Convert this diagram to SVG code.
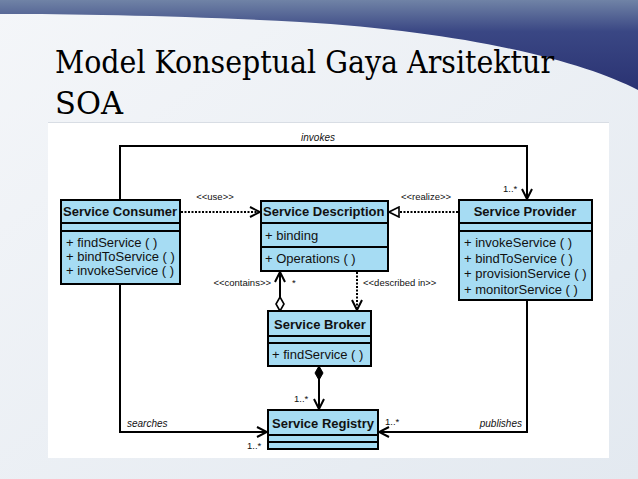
<svg xmlns="http://www.w3.org/2000/svg" width="638" height="479" viewBox="0 0 638 479">
<defs>
<linearGradient id="bg" x1="0" y1="0" x2="1" y2="1">
<stop offset="0" stop-color="#f4f6f9"/>
<stop offset="1" stop-color="#e3e9f0"/>
</linearGradient>
<linearGradient id="sw" x1="0" y1="0" x2="0" y2="1">
<stop offset="0" stop-color="#7083a6"/>
<stop offset="0.35" stop-color="#3a4784"/>
<stop offset="1" stop-color="#2a3272"/>
</linearGradient>
<marker id="open" viewBox="0 0 12 12" refX="11" refY="6" markerWidth="12" markerHeight="12" markerUnits="userSpaceOnUse" orient="auto">
<path d="M1,1 L11,6 L1,11" fill="none" stroke="#000" stroke-width="2"/>
</marker>
<marker id="tri" viewBox="0 0 12 12" refX="11" refY="6" markerWidth="12" markerHeight="12" markerUnits="userSpaceOnUse" orient="auto">
<path d="M1,1 L11,6 L1,11 Z" fill="#fff" stroke="#000" stroke-width="1.6"/>
</marker>
<marker id="hdia" viewBox="0 0 16 10" refX="1" refY="5" markerWidth="16" markerHeight="10" markerUnits="userSpaceOnUse" orient="auto">
<path d="M1,5 L8,1 L15,5 L8,9 Z" fill="#fff" stroke="#000" stroke-width="1.6"/>
</marker>
<marker id="fdia" viewBox="0 0 16 10" refX="1" refY="5" markerWidth="16" markerHeight="10" markerUnits="userSpaceOnUse" orient="auto">
<path d="M1,5 L8,1 L15,5 L8,9 Z" fill="#000" stroke="#000" stroke-width="1"/>
</marker>
</defs>
<style>
.box{fill:#a6dcf3;stroke:#000;stroke-width:2}
.hd{font-family:"Liberation Sans",Arial,sans-serif;font-weight:bold;font-size:13px;fill:#111}
.m{font-family:"Liberation Sans",Arial,sans-serif;font-size:13px;fill:#111}
.lb{font-family:"Liberation Sans",Arial,sans-serif;font-size:9.5px;fill:#111}
.it{font-family:"Liberation Sans",Arial,sans-serif;font-size:10px;font-style:italic;fill:#111}
.ln{fill:none;stroke:#000;stroke-width:2}
.dt{fill:none;stroke:#000;stroke-width:2;stroke-dasharray:2 1.5}
.ttl{font-family:'DejaVu Serif','Noto Serif','Liberation Serif',serif;font-size:31px;fill:#000}
</style>
<rect x="0" y="0" width="638" height="479" fill="url(#bg)"/>
<path d="M0,0 H638 V90 C585,62 470,32 300,22 C190,16 80,14 0,14 Z" fill="url(#sw)"/>
<text class="ttl" x="55" y="73" textLength="499" lengthAdjust="spacingAndGlyphs">Model Konseptual Gaya Arsitektur</text>
<text class="ttl" x="55" y="114" textLength="68" lengthAdjust="spacingAndGlyphs">SOA</text>
<rect x="48" y="123" width="561" height="335" fill="#fff"/>
<line x1="48" y1="122.5" x2="609" y2="122.5" stroke="#d8dde4" stroke-width="1"/>

<g id="connectors">
<path id="invokes" class="ln" d="M120,200 V146 H527 V199" marker-end="url(#open)"/>
<path id="use" class="dt" d="M181,212 H260" marker-end="url(#open)"/>
<path id="realize" class="dt" d="M458,212 H389" marker-end="url(#tri)"/>
<path id="contains" class="ln" d="M280,311 V272" marker-start="url(#hdia)" marker-end="url(#open)"/>
<path id="described" class="dt" d="M357,272 V310" marker-end="url(#open)"/>
<path id="compose" class="ln" d="M319,366 V409" marker-start="url(#fdia)" marker-end="url(#open)"/>
<path id="searches" class="ln" d="M120,284 V432 H267" marker-end="url(#open)"/>
<path id="publishes" class="ln" d="M527,300 V432 H379" marker-end="url(#open)"/>
<text class="it" x="318" y="141" text-anchor="middle">invokes</text>
<text class="lb" x="503" y="192">1..*</text>
<text class="lb" x="215" y="200" text-anchor="middle">&lt;&lt;use&gt;&gt;</text>
<text class="lb" x="426" y="200" text-anchor="middle">&lt;&lt;realize&gt;&gt;</text>
<text class="lb" x="271" y="286" text-anchor="end">&lt;&lt;contains&gt;&gt;</text>
<text class="lb" x="292" y="286">*</text>
<text class="lb" x="363" y="286">&lt;&lt;described in&gt;&gt;</text>
<text class="lb" x="294" y="402">1..*</text>
<text class="it" x="127" y="427">searches</text>
<text class="lb" x="247" y="449">1..*</text>
<text class="lb" x="385" y="425">1..*</text>
<text class="it" x="522" y="427" text-anchor="end">publishes</text>
</g>

<g id="consumer">
<rect class="box" x="61" y="200" width="119" height="84"/>
<line class="ln" x1="61" y1="223" x2="180" y2="223"/>
<line class="ln" x1="61" y1="231" x2="180" y2="231"/>
<text class="hd" x="63" y="216">Service Consumer</text>
<text class="m" x="66" y="247">+ findService ( )</text>
<text class="m" x="66" y="261">+ bindToService ( )</text>
<text class="m" x="66" y="275">+ invokeService ( )</text>
</g>

<g id="description">
<rect class="box" x="261" y="201" width="127" height="70"/>
<line class="ln" x1="261" y1="223" x2="388" y2="223"/>
<line class="ln" x1="261" y1="247" x2="388" y2="247"/>
<text class="hd" x="263" y="216">Service Description</text>
<text class="m" x="265" y="240">+ binding</text>
<text class="m" x="265" y="263">+ Operations ( )</text>
</g>

<g id="provider">
<rect class="box" x="459" y="200" width="133" height="100"/>
<line class="ln" x1="459" y1="223" x2="592" y2="223"/>
<line class="ln" x1="459" y1="231" x2="592" y2="231"/>
<text class="hd" x="525" y="216" text-anchor="middle">Service Provider</text>
<text class="m" x="464" y="247">+ invokeService ( )</text>
<text class="m" x="464" y="263">+ bindToService ( )</text>
<text class="m" x="464" y="278">+ provisionService ( )</text>
<text class="m" x="464" y="294">+ monitorService ( )</text>
</g>

<g id="broker">
<rect class="box" x="268" y="311" width="103" height="55"/>
<line class="ln" x1="268" y1="336" x2="371" y2="336"/>
<line class="ln" x1="268" y1="343" x2="371" y2="343"/>
<text class="hd" x="320" y="329" text-anchor="middle">Service Broker</text>
<text class="m" x="272" y="359">+ findService ( )</text>
</g>

<g id="registry">
<rect class="box" x="268" y="410" width="110" height="39"/>
<line class="ln" x1="268" y1="435" x2="378" y2="435"/>
<line class="ln" x1="268" y1="442" x2="378" y2="442"/>
<text class="hd" x="323" y="428" text-anchor="middle">Service Registry</text>
</g>
</svg>
